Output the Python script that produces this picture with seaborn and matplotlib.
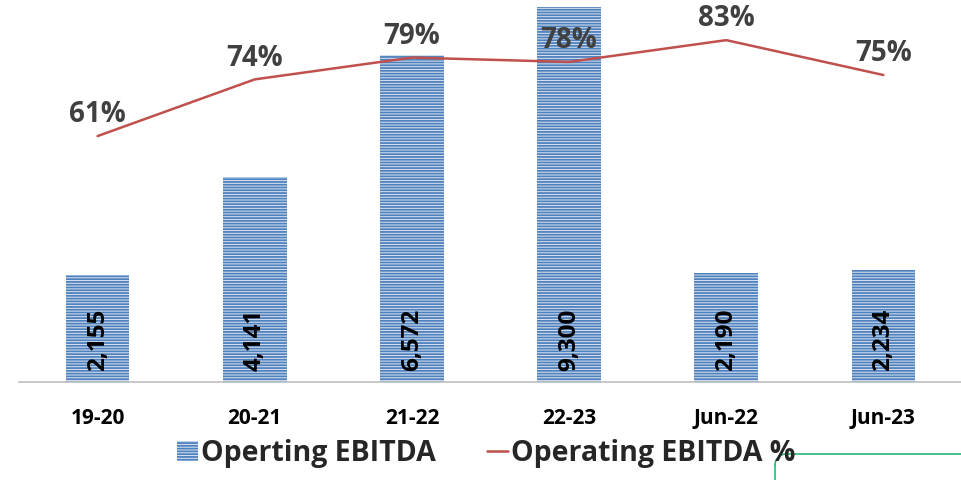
import numpy as np
import pandas as pd
import matplotlib
matplotlib.use("Agg")
import matplotlib.pyplot as plt
import matplotlib.patches as mpatches
import matplotlib.lines as mlines
import seaborn as sns

categories = ["19-20", "20-21", "21-22", "22-23", "Jun-22", "Jun-23"]
ebitda_labels = [2155, 4141, 6572, 9300, 2190, 2234]
# bar heights as drawn in the reference (not proportional to labels)
bar_heights = [2650, 5080, 8110, 9300, 2700, 2780]
ebitda_pct = [61, 74, 79, 78, 83, 75]

sns.set_theme(style="white")
plt.rcParams['font.family'] = ['Open Sans', 'DejaVu Sans']
plt.rcParams['hatch.linewidth'] = 1.3

BLUE = "#4F81BD"
RED = "#C0504D"

fig = plt.figure(figsize=(9.62, 4.81), dpi=100)
ax = fig.add_axes([19/962, 98/481, 943/962, 375/481])

df = pd.DataFrame({"cat": categories, "val": bar_heights})
sns.barplot(data=df, x="cat", y="val", ax=ax, color="#dbe5f2", width=0.405,
            saturation=1, edgecolor=BLUE, linewidth=0)
for p in ax.patches:
    p.set_hatch("------")
    p.set_edgecolor(BLUE)
    p.set_linewidth(0)

ax.set_ylim(0, 9300)
ax.set_xlim(-0.5, 5.5)
ax.set_xlabel("")
ax.set_ylabel("")
ax.set_yticks([])
for s in ["left", "right", "top"]:
    ax.spines[s].set_visible(False)
ax.spines["bottom"].set_color("#bfbfbf")
ax.spines["bottom"].set_linewidth(1.2)
ax.tick_params(axis="x", length=0, pad=18)
for lbl in ax.get_xticklabels():
    lbl.set_fontweight("bold")
    lbl.set_fontsize(15)
    lbl.set_color("black")

for i, v in enumerate(ebitda_labels):
    ax.text(i, 300, f"{v:,}", rotation=90, ha="center", va="bottom",
            fontsize=17.5, fontweight="bold", color="black")

ax2 = ax.twinx()
sns.lineplot(x=np.arange(len(categories)), y=ebitda_pct, ax=ax2, color=RED,
             linewidth=1.8, sort=False)
ax2.set_ylim(4.6, 90.6)
ax2.set_yticks([])
for s in ["left", "right", "top", "bottom"]:
    ax2.spines[s].set_visible(False)
ax2.set_xlim(-0.5, 5.5)
for i, v in enumerate(ebitda_pct):
    ax2.annotate(f"{v}%", (i, v), xytext=(0, 16), textcoords="offset points",
                 ha="center", va="center", fontsize=20, fontweight="bold",
                 color="#404040")

h_bar = mpatches.Patch(facecolor="#dbe5f2", edgecolor=BLUE, hatch="------", linewidth=0)
h_line = mlines.Line2D([], [], color=RED, linewidth=1.8)
fig.legend([h_bar, h_line], ["Operting EBITDA", "Operating EBITDA %"],
           loc="center", bbox_to_anchor=(486/962, 1 - 454/481), ncol=2, frameon=False,
           prop={"weight": "bold", "size": 20.5}, handlelength=0.75, handletextpad=0.1,
           columnspacing=1.8, borderpad=0)

# green connector decoration at bottom right
GREEN = "#2bb673"
fig.add_artist(mlines.Line2D([775/962, 775/962], [0, 1 - 466/481], color=GREEN,
                             linewidth=1.2, transform=fig.transFigure))
t = np.linspace(np.pi, np.pi/2, 20)
r_x, r_y = 11/962, 11/481
cx, cy = 786/962, 1 - 466/481
fig.add_artist(mlines.Line2D(cx + r_x*np.cos(t), cy + r_y*np.sin(t), color=GREEN,
                             linewidth=1.2, transform=fig.transFigure))
fig.add_artist(mlines.Line2D([786/962, 1.0], [1 - 455/481, 1 - 455/481], color=GREEN,
                             linewidth=1.2, transform=fig.transFigure))

fig.savefig("out.png", dpi=100)
